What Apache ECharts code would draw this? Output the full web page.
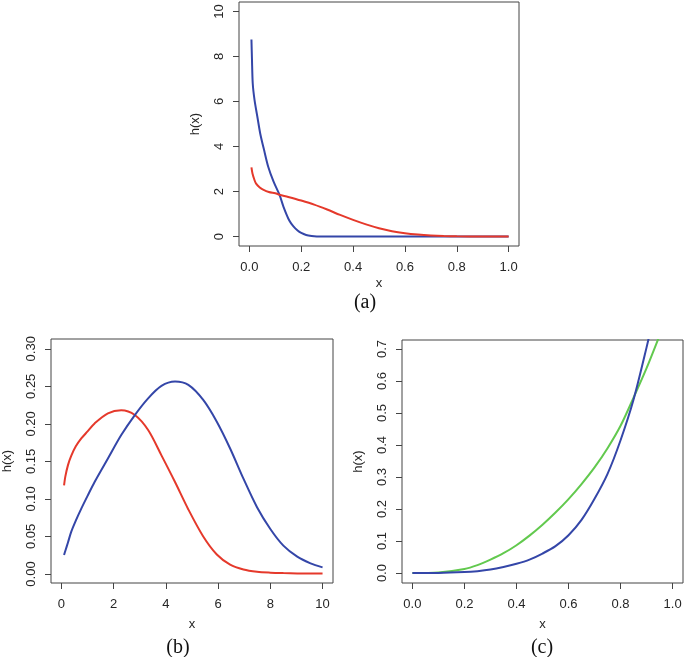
<!DOCTYPE html>
<html>
<head>
<meta charset="utf-8">
<script src="https://cdn.jsdelivr.net/npm/echarts@6/dist/echarts.min.js"></script>
<style>
  html, body { margin: 0; padding: 0; background: #fff; }
  #main { width: 685px; height: 657px; }
</style>
</head>
<body>
<div id="main"></div>
<script>
// panel (a)
const aBlueX = [0.008, 0.01, 0.013, 0.02, 0.031, 0.042, 0.057, 0.073, 0.093, 0.116, 0.132, 0.154, 0.17, 0.186, 0.2, 0.219, 0.24, 0.26, 0.3, 0.4, 0.5, 0.6, 0.7, 0.8, 0.9, 1.0]
const aBlueY = [8.75, 7.9, 6.8, 6.06, 5.31, 4.57, 3.83, 3.09, 2.45, 1.86, 1.31, 0.71, 0.45, 0.27, 0.16, 0.07, 0.025, 0.006, 0, 0, 0, 0, 0, 0, 0, 0]
const aRedX = [0.008, 0.012, 0.02, 0.026, 0.04, 0.051, 0.075, 0.1, 0.116, 0.15, 0.2, 0.25, 0.3, 0.35, 0.4, 0.45, 0.5, 0.55, 0.6, 0.65, 0.7, 0.75, 0.8, 0.9, 1.0]
const aRedY = [3.07, 2.8, 2.5, 2.35, 2.18, 2.1, 1.98, 1.92, 1.86, 1.76, 1.6, 1.42, 1.2, 0.96, 0.74, 0.54, 0.37, 0.24, 0.15, 0.09, 0.05, 0.025, 0.012, 0.003, 0]
const aXTicks = [0, 0.2, 0.4, 0.6, 0.8, 1.0]
const aYTicks = [0, 2, 4, 6, 8, 10]

// panel (b)
const bX = [0.1, 0.15, 0.25, 0.37, 0.55, 0.76, 1.0, 1.27, 1.78, 2.29, 2.81, 3.32, 3.83, 4.35, 4.86, 5.43, 5.95, 6.46, 6.97, 7.49, 8.0, 8.5, 9.03, 9.54, 10]
const bBlueY = [0.0254, 0.031, 0.042, 0.0557, 0.071, 0.087, 0.104, 0.1225, 0.1538, 0.185, 0.2117, 0.234, 0.2505, 0.2563, 0.2518, 0.2318, 0.2028, 0.1672, 0.127, 0.089, 0.06, 0.0378, 0.0231, 0.0142, 0.0088]
const bRedY = [0.118, 0.13, 0.145, 0.157, 0.17, 0.1805, 0.19, 0.2006, 0.214, 0.218, 0.2117, 0.1917, 0.158, 0.1225, 0.086, 0.05, 0.026, 0.0125, 0.006, 0.003, 0.0018, 0.0012, 0.0008, 0.0006, 0.0005]
const bXTicks = [0, 2, 4, 6, 8, 10]
const bYTicks = [0, 0.05, 0.1, 0.15, 0.2, 0.25, 0.3]

// panel (c)
const cX = [0, 0.1, 0.2, 0.25, 0.3, 0.35, 0.4, 0.45, 0.5, 0.55, 0.6, 0.65, 0.7, 0.75, 0.8, 0.85, 0.9, 0.95]
const cGreenY = [0, 0.002, 0.013, 0.025, 0.042, 0.062, 0.087, 0.117, 0.151, 0.189, 0.231, 0.278, 0.33, 0.39, 0.46, 0.548, 0.64, 0.742]
const cBlueY = [0, 0.0003, 0.003, 0.006, 0.011, 0.019, 0.029, 0.042, 0.061, 0.084, 0.118, 0.166, 0.232, 0.31, 0.415, 0.542, 0.705, 0.88]
const cXTicks = [0, 0.2, 0.4, 0.6, 0.8, 1.0]
const cYTicks = [0, 0.1, 0.2, 0.3, 0.4, 0.5, 0.6, 0.7]

const RED = '#e5392b'
const BLUE = '#3446a8'
const GREEN = '#62c94e'
const FONT = 'Liberation Sans'
const TXT = '#262626'

const pairs = (xs, ys) => xs.map((x, i) => [x, ys[i]])

function xAxisOf(idx, min, max, ticks, digits, gap) {
  return {
    type: 'value', gridIndex: idx, min: min, max: max, position: 'bottom',
    name: 'x', nameLocation: 'middle', nameGap: gap,
    nameTextStyle: { fontFamily: FONT, fontSize: 13, color: TXT },
    axisLine: { show: false, onZero: false },
    splitLine: { show: false },
    axisTick: { show: true, length: 6, customValues: ticks, lineStyle: { color: '#444', width: 1 } },
    axisLabel: {
      customValues: ticks, margin: 15, fontFamily: FONT, fontSize: 13, color: TXT,
      formatter: v => v.toFixed(digits)
    }
  }
}

function yAxisOf(idx, min, max, ticks, digits) {
  return {
    type: 'value', gridIndex: idx, min: min, max: max, position: 'left',
    name: 'h(x)', nameLocation: 'middle', nameGap: 37,
    nameTextStyle: { fontFamily: FONT, fontSize: 13, color: TXT },
    axisLine: { show: false, onZero: false },
    splitLine: { show: false },
    axisTick: { show: true, length: 6, customValues: ticks, lineStyle: { color: '#444', width: 1 } },
    axisLabel: {
      customValues: ticks, rotate: 90, margin: 13, fontFamily: FONT, fontSize: 13, color: TXT,
      formatter: v => v.toFixed(digits)
    }
  }
}

function line(idx, data, color) {
  return {
    type: 'line', xAxisIndex: idx, yAxisIndex: idx, data: data,
    showSymbol: false, smooth: 0.3, clip: true,
    lineStyle: { color: color, width: 2 }
  }
}

const boxStyle = { show: true, borderColor: '#444', borderWidth: 1, backgroundColor: 'transparent' }

const option = {
  animation: false,
  backgroundColor: '#fff',
  grid: [
    Object.assign({ left: 239, top: 2, width: 280, height: 244 }, boxStyle),
    Object.assign({ left: 51, top: 339, width: 282, height: 244 }, boxStyle),
    Object.assign({ left: 402, top: 340, width: 281, height: 243 }, boxStyle)
  ],
  xAxis: [
    xAxisOf(0, -0.04, 1.04, aXTicks, 1, 31),
    xAxisOf(1, -0.4, 10.4, bXTicks, 0, 35),
    xAxisOf(2, -0.04, 1.04, cXTicks, 1, 35)
  ],
  yAxis: [
    yAxisOf(0, -0.42, 10.42, aYTicks, 0),
    yAxisOf(1, -0.012, 0.313, bYTicks, 2),
    yAxisOf(2, -0.031, 0.728, cYTicks, 1)
  ],
  series: [
    line(0, pairs(aBlueX, aBlueY), BLUE),
    line(0, pairs(aRedX, aRedY), RED),
    line(1, pairs(bX, bRedY), RED),
    line(1, pairs(bX, bBlueY), BLUE),
    line(2, pairs(cX, cGreenY), GREEN),
    line(2, pairs(cX, cBlueY), BLUE)
  ],
  graphic: [
    { type: 'text', x: 365, y: 303, style: { text: '(a)', font: '20px "Liberation Serif"', fill: '#111', textAlign: 'center', textVerticalAlign: 'middle' } },
    { type: 'text', x: 178, y: 648, style: { text: '(b)', font: '20px "Liberation Serif"', fill: '#111', textAlign: 'center', textVerticalAlign: 'middle' } },
    { type: 'text', x: 542, y: 648, style: { text: '(c)', font: '20px "Liberation Serif"', fill: '#111', textAlign: 'center', textVerticalAlign: 'middle' } }
  ]
}

const chart = echarts.init(document.getElementById('main'))
chart.setOption(option)
</script>
</body>
</html>
